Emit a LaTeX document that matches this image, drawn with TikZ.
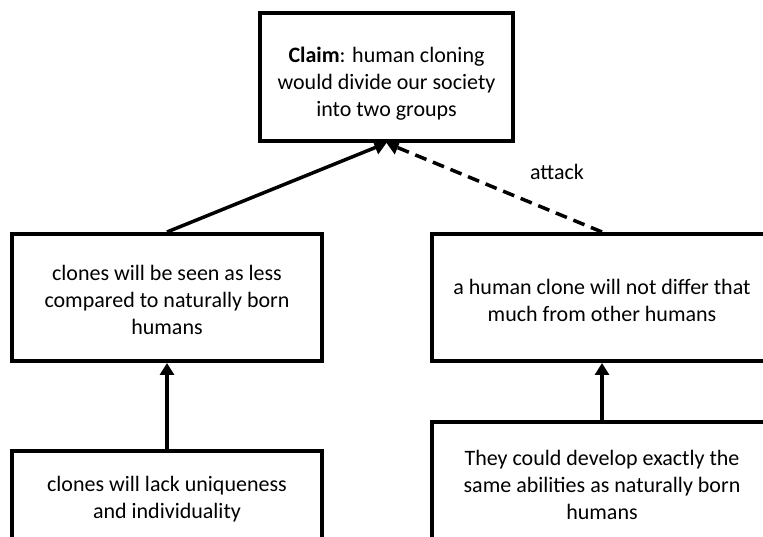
\documentclass[tikz,border=0pt]{standalone}
\usepackage{fontspec}
\setmainfont{Carlito}
\usepackage{tikz}
\usetikzlibrary{arrows.meta,calc}

\begin{document}
\begin{tikzpicture}[x=1pt,y=1pt,
    argbox/.style={draw=black,line width=4pt,fill=white,align=center,inner sep=0pt,
        font=\fontsize{22}{27}\selectfont},
    support/.style={line width=3.5pt,-{Triangle[length=12pt,width=14pt]}},
    attackline/.style={support,dash pattern=on 12pt off 7pt}]
    % frame
    \clip (0,0) rectangle (763,537);
    \fill[white] (0,0) rectangle (763,537);

    % claim
    \node[argbox,minimum width=253,minimum height=128] (claim) at (386.5,460)
        {\rule{0pt}{28pt}\textbf{Claim}: human cloning\\would divide our society\\into two groups};

    % middle row
    \node[argbox,minimum width=310,minimum height=127] (less) at (167,239.5)
        {\rule{0pt}{21pt}clones will be seen as less\\compared to naturally born\\humans};
    \node[argbox,minimum width=340,minimum height=127] (differ) at (602,239.5)
        {\rule{0pt}{21pt}a human clone will not differ that\\much from other humans};

    % bottom row
    \node[argbox,minimum width=310,minimum height=96] (unique) at (167,38)
        {clones will lack uniqueness\\and individuality};
    \node[argbox,minimum width=340,minimum height=126] (abilities) at (602,52)
        {They could develop exactly the\\same abilities as naturally born\\humans};

    % arrows
    \draw[support] (less.north) -- (claim.south);
    \draw[attackline] (differ.north) -- (claim.south);
    \node[font=\fontsize{22}{27}\selectfont] (attacklabel) at (557,365) {attack};
    \draw[support] (unique.north) -- (less.south);
    \draw[support] (abilities.north) -- (differ.south);
\end{tikzpicture}
\end{document}
